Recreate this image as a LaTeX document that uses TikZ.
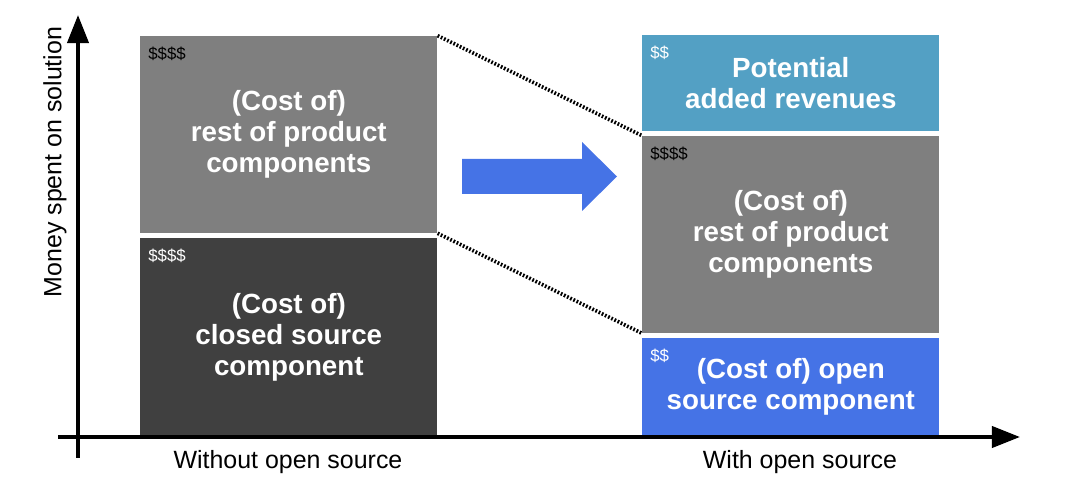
\documentclass[tikz,border=0pt]{standalone}
\usepackage{fontspec}
\setmainfont{Liberation Sans}
\usetikzlibrary{calc}
\usetikzlibrary{positioning}
\usetikzlibrary{arrows.meta}

\definecolor{restgray}{HTML}{7F7F7F}
\definecolor{closedgray}{HTML}{404040}
\definecolor{revenueteal}{HTML}{53A0C4}
\definecolor{opensourceblue}{HTML}{4573E6}

\begin{document}
\begin{tikzpicture}[x=0.02cm,y=0.02cm,
  blockbox/.style={inner sep=0pt, minimum width=5.94cm, align=center, text=white,
                   font=\fontsize{15.8}{17.6}\selectfont\bfseries},
  costtag/.style={anchor=north west, inner sep=0pt, font=\fontsize{9.6}{11}\selectfont},
  axislabel/.style={inner sep=0pt, font=\fontsize{14.2}{17}\selectfont},
  axisline/.style={line width=2.3pt, arrows=-{Triangle[length=16pt,width=12pt]}},
  linkline/.style={line width=2.1pt, dash pattern=on 1pt off 1pt}]

  %% fixing the margins of the picture
  \useasboundingbox (0,0) rectangle (1080,483);

  %% stack without open source
  \node[blockbox, fill=closedgray, minimum height=3.98cm, anchor=south west]
       (closed) at (140,46) {(Cost of)\\closed source\\component};
  \node[blockbox, fill=restgray, minimum height=3.94cm, above=0.08cm of closed]
       (rest) {(Cost of)\\rest of product\\components};

  %% stack with open source
  \node[blockbox, fill=opensourceblue, minimum height=1.98cm, anchor=south west]
       (oss) at (642,46) {(Cost of) open\\source component};
  \node[blockbox, fill=restgray, minimum height=3.94cm, above=0.08cm of oss]
       (restr) {(Cost of)\\rest of product\\components};
  \node[blockbox, fill=revenueteal, minimum height=1.92cm, above=0.08cm of restr]
       (revenue) {Potential\\added revenues};

  %% dollar tags in the corners
  \def\mytagshift{(8,-11)}
  \node[costtag] (rest/tag) at ([shift=\mytagshift]rest.north west) {\$\$\$\$};
  \node[costtag, text=white] (closed/tag) at ([shift=\mytagshift]closed.north west) {\$\$\$\$};
  \node[costtag, text=white] (revenue/tag) at ([shift=\mytagshift]revenue.north west) {\$\$};
  \node[costtag] (restr/tag) at ([shift=\mytagshift]restr.north west) {\$\$\$\$};
  \node[costtag, text=white] (oss/tag) at ([shift=\mytagshift]oss.north west) {\$\$};

  %% dotted links between the two stacks
  \draw[linkline] (rest.north east) -- (restr.north west);
  \draw[linkline] (rest.south east) -- (restr.south west);

  %% big arrow in between
  \fill[opensourceblue] (462,289) -- (582,289) -- (582,272) -- (617,306.5)
                     -- (582,341) -- (582,324) -- (462,324) -- cycle;

  %% axes
  \draw[axisline] (78,25) -- (78,468);
  \draw[axisline] (58,46) -- (1020,46);

  %% axis labels
  \node[axislabel, rotate=90] (ylabel) at (55,321) {Money spent on solution};
  \node[axislabel] (without) at (288,21) {Without open source};
  \node[axislabel] (with) at (800,21) {With open source};

\end{tikzpicture}
\end{document}
